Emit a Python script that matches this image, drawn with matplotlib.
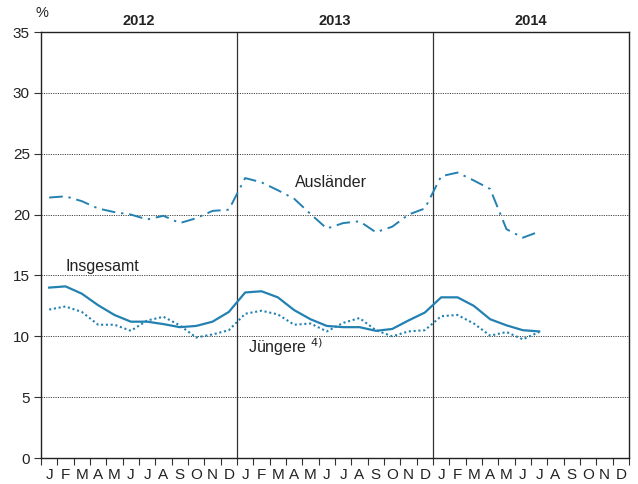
import numpy as np
import matplotlib
matplotlib.use('Agg')
import matplotlib.pyplot as plt

# monthly rates in %, Jan 2012 .. Jul 2014
auslaender = [21.4, 21.5, 21.1, 20.5, 20.2, 20.0, 19.6, 19.9, 19.3, 19.7, 20.3, 20.4,
              23.0, 22.65, 22.0, 21.3, 20.05, 18.85, 19.3, 19.45, 18.55, 19.0, 20.0, 20.5,
              23.15, 23.45, 22.8, 22.1, 18.8, 18.1, 18.6]
insgesamt = [14.0, 14.1, 13.5, 12.55, 11.75, 11.2, 11.2, 11.0, 10.75, 10.85, 11.2, 12.0,
             13.6, 13.7, 13.2, 12.15, 11.4, 10.85, 10.75, 10.75, 10.45, 10.6, 11.3, 11.95,
             13.2, 13.2, 12.5, 11.4, 10.9, 10.5, 10.4]
juengere = [12.2, 12.45, 12.0, 10.95, 10.95, 10.45, 11.3, 11.6, 10.9, 9.9, 10.15, 10.5,
            11.85, 12.1, 11.8, 10.95, 11.05, 10.4, 11.1, 11.5, 10.5, 10.0, 10.4, 10.5,
            11.65, 11.75, 11.05, 10.05, 10.35, 9.75, 10.35]
months = ['J', 'F', 'M', 'A', 'M', 'J', 'J', 'A', 'S', 'O', 'N', 'D'] * 3
years = ['2012', '2013', '2014']
yticks = [0, 5, 10, 15, 20, 25, 30, 35]

plt.rcParams['font.family'] = ['Liberation Sans', 'DejaVu Sans']
color = '#2381b1'

fig = plt.figure(figsize=(6.38, 4.84), dpi=100)
ax = fig.add_axes([41/638, 26/484, 588/638, 426/484])

x = np.arange(len(auslaender)) + 0.5
ax.plot(x, auslaender, color=color, lw=1.4, dashes=(7, 3, 1.2, 3))
ax.plot(x, insgesamt, color=color, lw=1.6)
ax.plot(x, juengere, color=color, lw=1.5, linestyle=(0, (1, 1.3)))

ax.set_xlim(0, 36)
ax.set_ylim(0, 35)
ax.set_yticks(yticks)
ax.set_xticks(np.arange(0, 37))
ax.set_xticklabels([])
ax.set_xticks(np.arange(36) + 0.5, minor=True)
ax.set_xticklabels(months, minor=True)
ax.tick_params(axis='x', which='major', direction='out', length=5, width=0.8, color='#333333')
ax.tick_params(axis='x', which='minor', length=0, pad=7, labelsize=11, labelcolor='#222222')
ax.tick_params(axis='y', direction='out', length=5, width=0.8, color='#333333',
               labelsize=11, labelcolor='#222222', pad=3)

for v in yticks[1:-1]:
    ax.axhline(v, color='#444444', lw=0.7, linestyle=(0, (1.2, 1.2)), zorder=0)
for xv in (12, 24):
    ax.axvline(xv, color='#333333', lw=0.9, zorder=1)

for s in ax.spines.values():
    s.set_color('#222222')
    s.set_linewidth(1.0)

for i, yr in enumerate(years):
    ax.text(i * 12 + 6, 35.3, yr, ha='center', va='bottom', fontsize=10.5,
            fontweight='bold', color='#222222')
ax.text(0.05, 36.55, '%', ha='center', va='center', fontsize=10.5, color='#222222')

ax.text(15.55, 22.6, 'Ausländer', fontsize=11.5, color='#222222', va='center')
ax.text(1.5, 15.7, 'Insgesamt', fontsize=11.5, color='#222222', va='center')
ax.text(12.7, 9.1, 'Jüngere $^{4)}$', fontsize=11.5, color='#222222', va='center')

fig.savefig('out.png', dpi=100)
